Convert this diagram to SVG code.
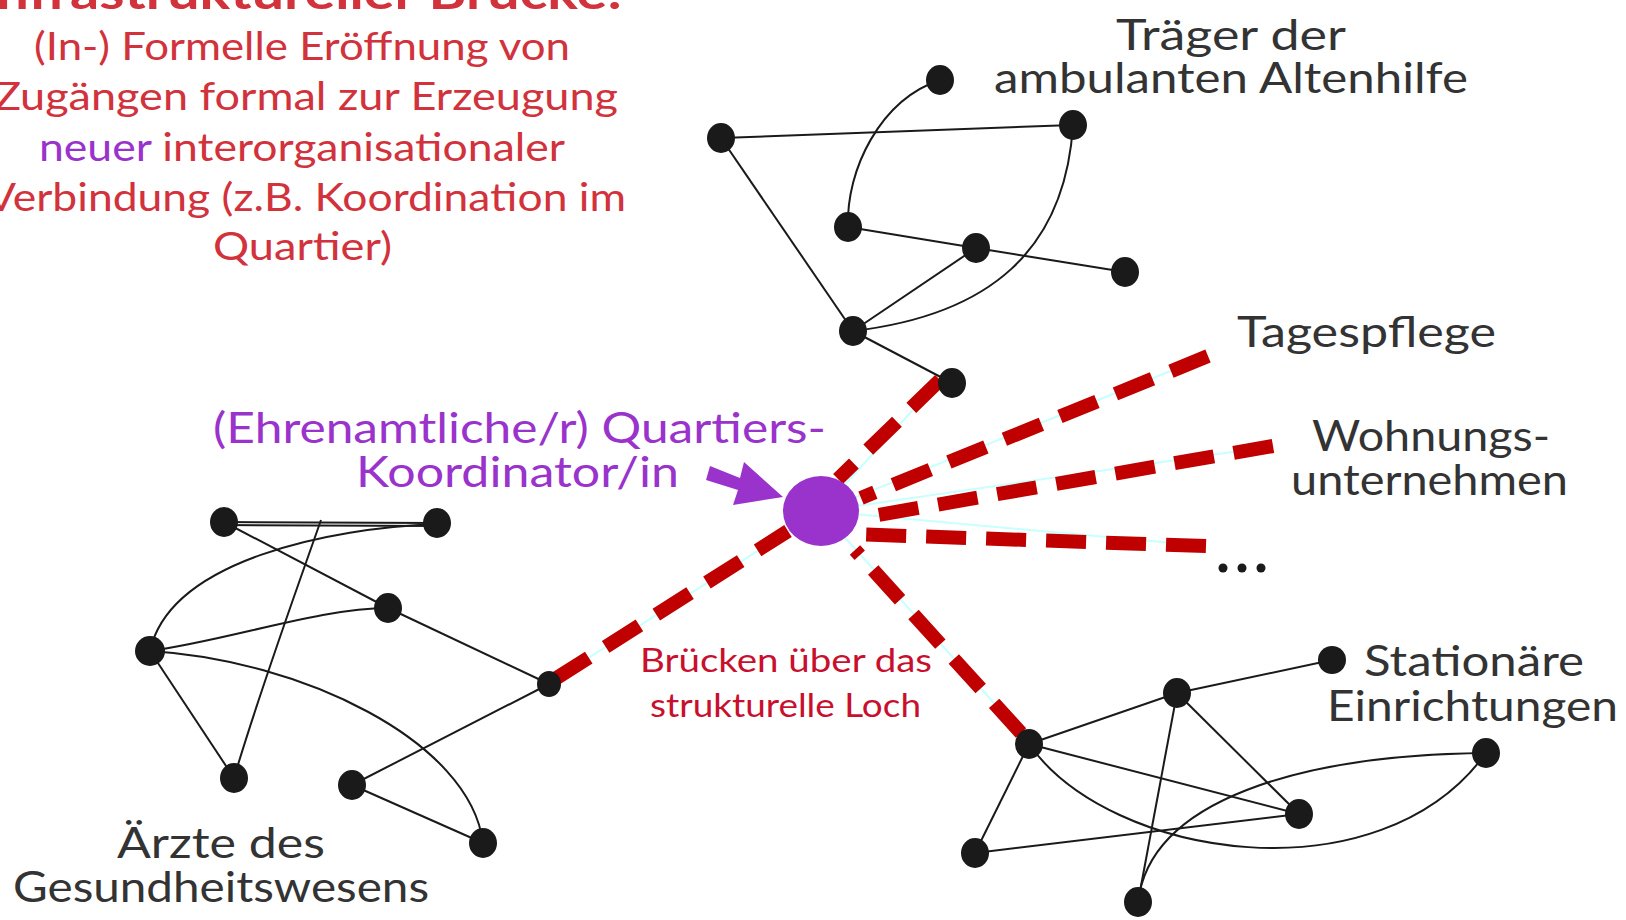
<svg xmlns="http://www.w3.org/2000/svg" width="1626" height="920" viewBox="0 0 1626 920">
<defs>
<style>
.t{font-family:Lato,"Liberation Sans",sans-serif;}
.red{fill:#d1323c;}
.pur{fill:#9933cc;}
.dark{fill:#333333;}
.e{fill:none;stroke:#1a1a1a;stroke-width:2;}
.n{fill:#1a1a1a;}
.dash{fill:none;stroke:#c00000;stroke-width:14;stroke-dasharray:40 20;}
.cy{fill:none;stroke:#c8ffff;stroke-width:2;}
</style>
</defs>
<rect width="1626" height="920" fill="#ffffff"/>

<g id="intro-text" class="t">
<text x="622" y="9" text-anchor="end" class="red" font-size="46" font-weight="bold" textLength="640" lengthAdjust="spacingAndGlyphs">infrastruktureller Brücke:</text>
<text x="34" y="60" class="red" font-size="39" textLength="536" lengthAdjust="spacingAndGlyphs">(In-) Formelle Eröffnung von</text>
<text x="-6" y="110" class="red" font-size="39" textLength="624" lengthAdjust="spacingAndGlyphs">Zugängen formal zur Erzeugung</text>
<text x="39" y="161" font-size="39" textLength="526" lengthAdjust="spacingAndGlyphs"><tspan class="pur">neuer</tspan><tspan class="red"> interorganisationaler</tspan></text>
<text x="-14" y="211" class="red" font-size="39" textLength="640" lengthAdjust="spacingAndGlyphs">Verbindung (z.B. Koordination im</text>
<text x="213" y="260" class="red" font-size="39" textLength="179" lengthAdjust="spacingAndGlyphs">Quartier)</text>
</g>

<g id="connectors">
<!-- top cluster -->
<path class="e" d="M721,138 L1073,125"/>
<path class="e" d="M721,138 L853,331"/>
<path class="e" d="M940,80 C880,100 846,170 848,227"/>
<path class="e" d="M1073,125 C1065,250 990,315 853,331"/>
<path class="e" d="M848,227 L976,248 L1125,272"/>
<path class="e" d="M976,248 L853,331"/>
<path class="e" d="M853,331 L952,383"/>
<!-- left cluster -->
<path class="e" d="M224,522 L437,523"/>
<path class="e" d="M224,525 L437,526"/>
<path class="e" d="M224,522 L388,608"/>
<path class="e" d="M388,608 L549,684"/>
<path class="e" d="M437,524 C330,528 170,560 150,651"/>
<path class="e" d="M150,651 C230,640 320,608 388,608"/>
<path class="e" d="M150,651 C300,660 470,740 483,843"/>
<path class="e" d="M150,651 L234,778"/>
<path class="e" d="M234,778 C260,690 300,580 321,520"/>
<path class="e" d="M352,785 L549,684"/>
<path class="e" d="M352,785 L483,843"/>
<!-- right cluster -->
<path class="e" d="M1029,744 L1177,693 L1332,660"/>
<path class="e" d="M1029,744 L975,853"/>
<path class="e" d="M1029,744 L1299,814"/>
<path class="e" d="M1029,744 C1110,860 1380,900 1486,753"/>
<path class="e" d="M1177,693 L1138,902"/>
<path class="e" d="M1177,693 L1299,814"/>
<path class="e" d="M975,853 L1299,814"/>
<path class="e" d="M1138,902 C1150,800 1300,755 1486,753"/>
<!-- bridges -->
<g id="bridges">
<path class="cy" d="M821,511 L940,380"/>
<path class="cy" d="M821,511 L1208,356"/>
<path class="cy" d="M821,511 L1273,446"/>
<path class="cy" d="M821,511 L1206,546"/>
<path class="cy" d="M821,511 L1021,733"/>
<path class="cy" d="M821,511 L555,679"/>
<path class="dash" d="M940,380 L838,479"/>
<path class="dash" d="M1208,356 L861,498"/>
<path class="dash" d="M1273,446 L861,518"/>
<path class="dash" d="M1206,546 L850,534"/>
<path class="dash" d="M1021,733 L855,550"/>
<path class="dash" d="M555,679 L788,531"/>
</g>
</g>

<g id="top-cluster">
<ellipse class="n" cx="940" cy="80" rx="14" ry="15"/>
<ellipse class="n" cx="721" cy="138" rx="14" ry="15"/>
<ellipse class="n" cx="1073" cy="125" rx="14" ry="15"/>
<ellipse class="n" cx="848" cy="227" rx="14" ry="15"/>
<ellipse class="n" cx="976" cy="248" rx="14" ry="15"/>
<ellipse class="n" cx="1125" cy="272" rx="14" ry="15"/>
<ellipse class="n" cx="853" cy="331" rx="14" ry="15"/>
<ellipse class="n" cx="952" cy="383" rx="14" ry="15"/>
<text class="t dark" x="1231" y="50" text-anchor="middle" font-size="42" textLength="230" lengthAdjust="spacingAndGlyphs">Träger der</text>
<text class="t dark" x="1231" y="93" text-anchor="middle" font-size="42" textLength="474" lengthAdjust="spacingAndGlyphs">ambulanten Altenhilfe</text>
</g>

<g id="left-cluster">
<ellipse class="n" cx="224" cy="522" rx="14" ry="15"/>
<ellipse class="n" cx="437" cy="523" rx="14" ry="15"/>
<ellipse class="n" cx="388" cy="608" rx="14" ry="15"/>
<ellipse class="n" cx="150" cy="651" rx="15" ry="15"/>
<ellipse class="n" cx="549" cy="684" rx="12" ry="13"/>
<ellipse class="n" cx="234" cy="778" rx="14" ry="15"/>
<ellipse class="n" cx="352" cy="785" rx="14" ry="15"/>
<ellipse class="n" cx="483" cy="843" rx="14" ry="15"/>
<text class="t dark" x="221" y="858" text-anchor="middle" font-size="42" textLength="208" lengthAdjust="spacingAndGlyphs">Ärzte des</text>
<text class="t dark" x="221" y="902" text-anchor="middle" font-size="42" textLength="416" lengthAdjust="spacingAndGlyphs">Gesundheitswesens</text>
</g>

<g id="right-cluster">
<ellipse class="n" cx="1029" cy="744" rx="14" ry="15"/>
<ellipse class="n" cx="1177" cy="693" rx="14" ry="15"/>
<ellipse class="n" cx="1332" cy="660" rx="14" ry="14"/>
<ellipse class="n" cx="1486" cy="753" rx="14" ry="15"/>
<ellipse class="n" cx="1299" cy="814" rx="14" ry="15"/>
<ellipse class="n" cx="975" cy="853" rx="14" ry="15"/>
<ellipse class="n" cx="1138" cy="902" rx="14" ry="15"/>
<text class="t dark" x="1364" y="676" font-size="42" textLength="220" lengthAdjust="spacingAndGlyphs">Stationäre</text>
<text class="t dark" x="1327" y="721" font-size="42" textLength="291" lengthAdjust="spacingAndGlyphs">Einrichtungen</text>
</g>

<g id="coordinator">
<ellipse cx="821" cy="511" rx="38" ry="35" fill="#9933cc"/>
<polygon fill="#9933cc" points="710,466 740,478 744,462 783,497 733,505 738,490 706,480"/>
<text class="t pur" x="213" y="443" font-size="42" textLength="613" lengthAdjust="spacingAndGlyphs">(Ehrenamtliche/r) Quartiers-</text>
<text class="t pur" x="356" y="487" font-size="42" textLength="323" lengthAdjust="spacingAndGlyphs">Koordinator/in</text>
</g>

<g id="targets">
<text class="t dark" x="1237" y="347" font-size="42" textLength="259" lengthAdjust="spacingAndGlyphs">Tagespflege</text>
<text class="t dark" x="1312" y="451" font-size="42" textLength="238" lengthAdjust="spacingAndGlyphs">Wohnungs-</text>
<text class="t dark" x="1291" y="495" font-size="42" textLength="277" lengthAdjust="spacingAndGlyphs">unternehmen</text>
<circle class="n" cx="1223" cy="568" r="4.5"/>
<circle class="n" cx="1242" cy="568" r="4.5"/>
<circle class="n" cx="1261" cy="568" r="4.5"/>
</g>

<g id="bridge-label" class="t" fill="#c8102e">
<text x="640" y="672" font-size="33" textLength="292" lengthAdjust="spacingAndGlyphs">Brücken über das</text>
<text x="650" y="717" font-size="33" textLength="271" lengthAdjust="spacingAndGlyphs">strukturelle Loch</text>
</g>
</svg>
